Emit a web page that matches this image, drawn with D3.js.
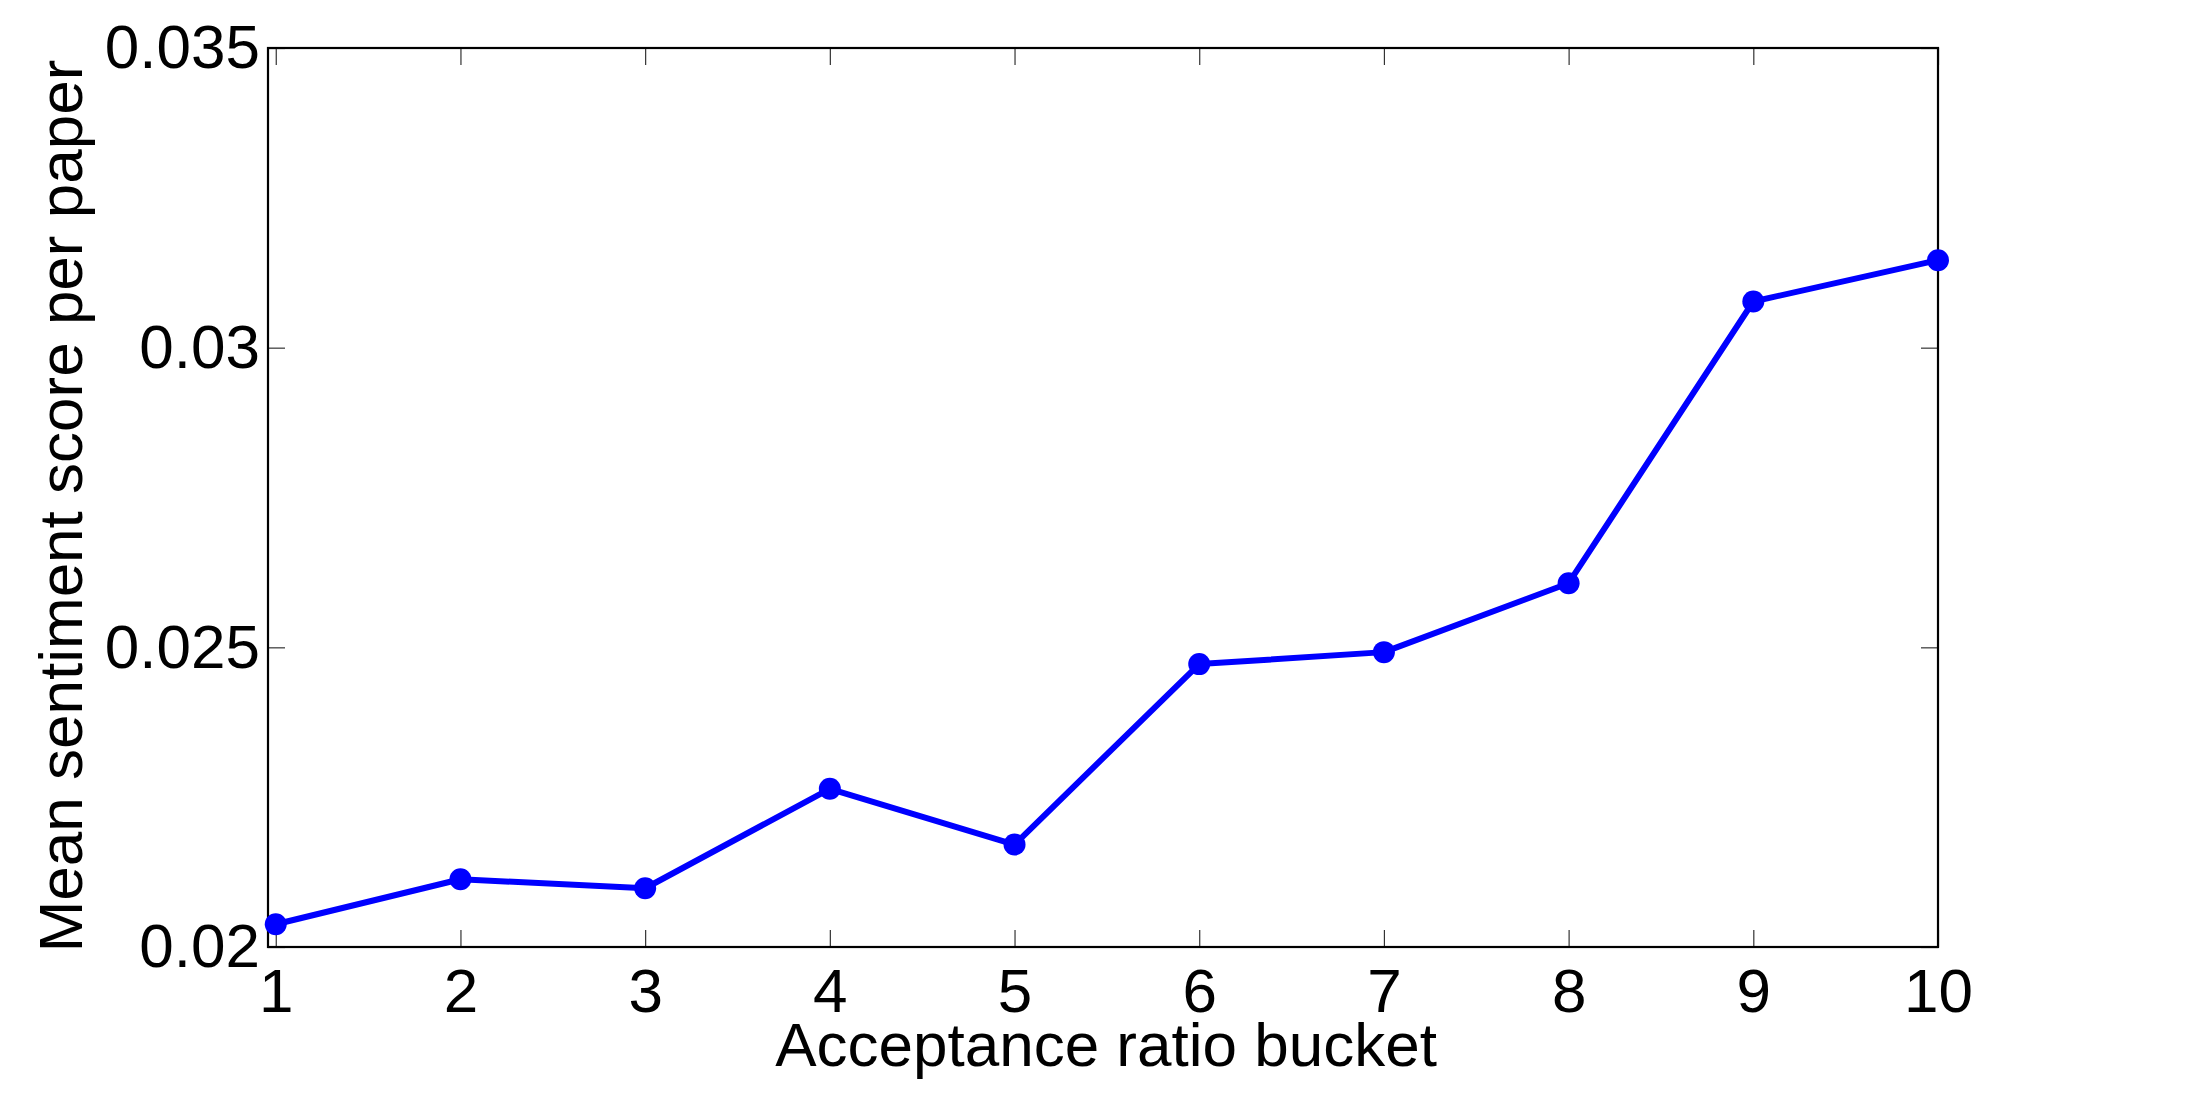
<!DOCTYPE html>
<html>
<head>
<meta charset="utf-8">
<script src="https://cdn.jsdelivr.net/npm/d3@7"></script>
<style>
  html, body { margin: 0; padding: 0; background: #fff; }
  svg { display: block; }
  text { font-family: "Liberation Sans", Arial, Helvetica, sans-serif; fill: #000; }
</style>
</head>
<body>
<svg id="chart" width="2194" height="1115"></svg>
<script>
// ---- data ----
const buckets = [1, 2, 3, 4, 5, 6, 7, 8, 9, 10];
const meanSentiment = [0.02038, 0.02113, 0.02098, 0.02264, 0.02171, 0.02472, 0.02492, 0.02607, 0.03077, 0.03146];
const xTickValues = [1, 2, 3, 4, 5, 6, 7, 8, 9, 10];
const yTickValues = [0.02, 0.025, 0.03, 0.035];
const yTickLabels = ["0.02", "0.025", "0.03", "0.035"];
const xLabel = "Acceptance ratio bucket";
const yLabel = "Mean sentiment score per paper";

// ---- layout ----
const W = 2194, H = 1115;
const plotL = 268, plotR = 1938, plotT = 48, plotB = 947;
const fontSize = 62;
const tickLen = 17;

const svg = d3.select("#chart");
svg.append("rect").attr("width", W).attr("height", H).attr("fill", "#fff");

const x = d3.scaleLinear().domain([0.958, 10]).range([plotL, plotR]);
const y = d3.scaleLinear().domain([0.02, 0.035]).range([plotB, plotT]);

function styleAxis(g) {
  g.select(".domain").remove();
  g.selectAll(".tick line").attr("stroke", "#333").attr("stroke-width", 1.2);
  g.selectAll(".tick text").attr("font-size", fontSize)
    .attr("font-family", '"Liberation Sans", Arial, sans-serif').attr("fill", "#000");
}

// bottom axis
svg.append("g").attr("transform", `translate(0,${plotB})`)
  .call(d3.axisBottom(x).tickValues(xTickValues).tickFormat(d3.format("d"))
        .tickSize(-tickLen).tickPadding(21))
  .call(styleAxis);

// top axis (ticks only)
svg.append("g").attr("transform", `translate(0,${plotT})`)
  .call(d3.axisTop(x).tickValues(xTickValues).tickFormat("").tickSize(-tickLen))
  .call(styleAxis);

// left axis
svg.append("g").attr("transform", `translate(${plotL},0)`)
  .call(d3.axisLeft(y).tickValues(yTickValues)
        .tickFormat((d, i) => yTickLabels[i]).tickSize(-tickLen).tickPadding(8))
  .call(styleAxis);

// right axis (ticks only)
svg.append("g").attr("transform", `translate(${plotR},0)`)
  .call(d3.axisRight(y).tickValues(yTickValues).tickFormat("").tickSize(-tickLen))
  .call(styleAxis);

// frame
svg.append("rect")
  .attr("x", plotL).attr("y", plotT)
  .attr("width", plotR - plotL).attr("height", plotB - plotT)
  .attr("fill", "none").attr("stroke", "#000").attr("stroke-width", 2.2);

// series
const pts = buckets.map((b, i) => [b, meanSentiment[i]]);
const line = d3.line().x(d => x(d[0])).y(d => y(d[1]));
svg.append("path").datum(pts)
  .attr("d", line)
  .attr("fill", "none").attr("stroke", "#0000FF")
  .attr("stroke-width", 6).attr("stroke-linejoin", "round");

svg.append("g").selectAll("circle").data(pts).join("circle")
  .attr("cx", d => x(d[0])).attr("cy", d => y(d[1]))
  .attr("r", 11).attr("fill", "#0000FF");

// axis labels
svg.append("text")
  .attr("x", (plotL + plotR) / 2 + 3).attr("y", 1066)
  .attr("text-anchor", "middle").attr("font-size", fontSize)
  .text(xLabel);

svg.append("text")
  .attr("transform", `translate(82,${506}) rotate(-90)`)
  .attr("text-anchor", "middle").attr("font-size", fontSize)
  .text(yLabel);
</script>
</body>
</html>
